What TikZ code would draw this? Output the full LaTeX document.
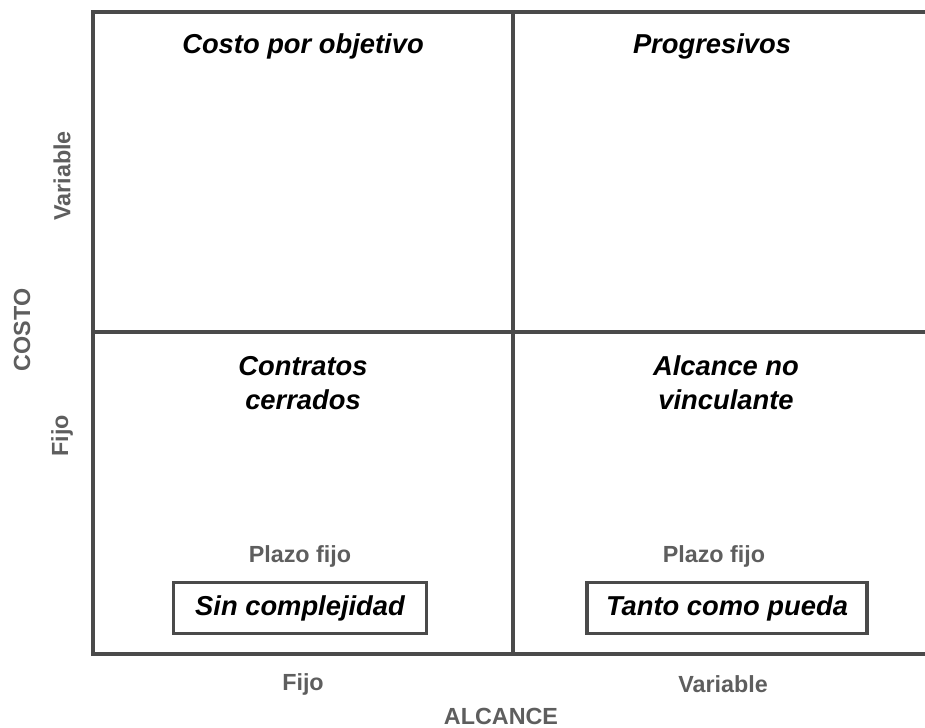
\documentclass[tikz,border=0pt]{standalone}
\usepackage{fontspec}
\setmainfont{Liberation Sans}
\usepackage{xcolor}
\definecolor{gridgray}{HTML}{4A4A4A}
\definecolor{labelgray}{HTML}{5E5E5E}

\tikzset{
  titulo/.style={font=\fontsize{20.5}{25.5}\selectfont\bfseries\itshape, align=center, inner sep=0pt},
  etiqueta/.style={font=\fontsize{17.5}{21}\selectfont\bfseries, text=labelgray, inner sep=0pt},
  caja/.style={draw=gridgray, line width=2.4pt, titulo, minimum height=38pt},
}

\begin{document}
\begin{tikzpicture}[x=0.75pt,y=-0.75pt]
		\useasboundingbox (0,0) rectangle (925,728);

		% cuadricula
		\draw[gridgray, line width=3pt] (925,12) -- (93,12) -- (93,654) -- (925,654);
		\draw[gridgray, line width=3pt] (513,12) -- (513,654);
		\draw[gridgray, line width=3pt] (93,332) -- (925,332);

		% ejes
		\node[etiqueta, rotate=90] (cvar) at (62,176) {Variable};
		\node[etiqueta, rotate=90] (costo) at (22,330) {COSTO};
		\node[etiqueta, rotate=90] (cfijo) at (62,436) {Fijo};
		\node[etiqueta] (afijo) at (303,684) {Fijo};
		\node[etiqueta] (avar) at (723,684) {Variable};
		\node[etiqueta] (alcance) at (501,716) {ALCANCE};

		% cuadrantes
		\node[titulo] (objetivo) at (303,46) {Costo por objetivo};
		\node[titulo] (progresivos) at (712,46) {Progresivos};
		\node[titulo] (cerrados) at (303,383) {Contratos\\cerrados};
		\node[titulo] (vinculante) at (726,383) {Alcance no\\vinculante};

		\node[etiqueta] (plazoa) at (300,556) {Plazo fijo};
		\node[etiqueta] (plazob) at (714,556) {Plazo fijo};
		\node[caja, minimum width=190pt] (sincomp) at (300,608) {Sin complejidad};
		\node[caja, minimum width=210pt] (tanto) at (727,608) {Tanto como pueda};
\end{tikzpicture}
\end{document}
